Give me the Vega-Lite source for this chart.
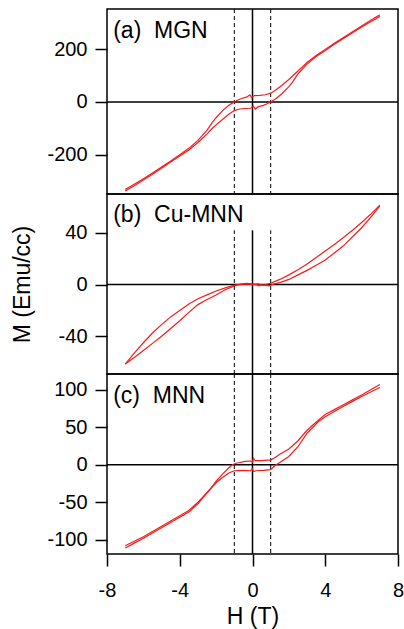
{
  "$schema": "https://vega.github.io/schema/vega-lite/v6.json",
  "background": "white",
  "padding": {"left": 10, "top": 7, "right": 0, "bottom": 0},
  "spacing": 0,
  "bounds": "flush",
  "config": {
    "view": {"stroke": "black", "strokeWidth": 1.5},
    "axis": {"grid": false, "domain": false, "labelFont": "Liberation Sans", "labelFontSize": 20, "labelColor": "black", "tickColor": "black", "tickWidth": 1.5, "tickSize": 12, "titleFont": "Liberation Sans", "titleFontSize": 23, "titleFontWeight": "normal", "titleColor": "black", "labelOverlap": false},
    "text": {"font": "Liberation Sans"}
  },
  "datasets": {
    "mgn": [
      {"b":"d","H":7,"M":330},{"b":"d","H":6.5,"M":309},{"b":"d","H":6,"M":288},{"b":"d","H":5.5,"M":266},{"b":"d","H":5,"M":244},{"b":"d","H":4.5,"M":222},{"b":"d","H":4,"M":199},{"b":"d","H":3.5,"M":176},{"b":"d","H":3,"M":149},{"b":"d","H":2.5,"M":117},{"b":"d","H":2.2,"M":98},{"b":"d","H":2,"M":85},{"b":"d","H":1.6,"M":62},{"b":"d","H":1.3,"M":46},{"b":"d","H":1,"M":33},{"b":"d","H":0.7,"M":27},{"b":"d","H":0.4,"M":25},{"b":"d","H":0.1,"M":24},{"b":"d","H":-0.05,"M":16},{"b":"d","H":-0.15,"M":27},{"b":"d","H":-0.3,"M":19},{"b":"d","H":-0.6,"M":13},{"b":"d","H":-0.8,"M":7},{"b":"d","H":-1,"M":0},{"b":"d","H":-1.3,"M":-13},{"b":"d","H":-1.6,"M":-30},{"b":"d","H":-2,"M":-60},{"b":"d","H":-2.2,"M":-77},{"b":"d","H":-2.5,"M":-107},{"b":"d","H":-3,"M":-146},{"b":"d","H":-3.5,"M":-176},{"b":"d","H":-4,"M":-200},{"b":"d","H":-4.5,"M":-224},{"b":"d","H":-5,"M":-247},{"b":"d","H":-5.5,"M":-269},{"b":"d","H":-6,"M":-291},{"b":"d","H":-6.5,"M":-312},{"b":"d","H":-7,"M":-332},
      {"b":"a","H":-7,"M":-338},{"b":"a","H":-6.5,"M":-318},{"b":"a","H":-6,"M":-296},{"b":"a","H":-5.5,"M":-274},{"b":"a","H":-5,"M":-251},{"b":"a","H":-4.5,"M":-228},{"b":"a","H":-4,"M":-205},{"b":"a","H":-3.5,"M":-182},{"b":"a","H":-3,"M":-154},{"b":"a","H":-2.5,"M":-121},{"b":"a","H":-2.2,"M":-100},{"b":"a","H":-2,"M":-87},{"b":"a","H":-1.6,"M":-64},{"b":"a","H":-1.3,"M":-47},{"b":"a","H":-1,"M":-33},{"b":"a","H":-0.7,"M":-27},{"b":"a","H":-0.4,"M":-25},{"b":"a","H":-0.1,"M":-24},{"b":"a","H":0.05,"M":-16},{"b":"a","H":0.15,"M":-27},{"b":"a","H":0.3,"M":-19},{"b":"a","H":0.6,"M":-13},{"b":"a","H":0.8,"M":-7},{"b":"a","H":1,"M":0},{"b":"a","H":1.3,"M":13},{"b":"a","H":1.6,"M":30},{"b":"a","H":2,"M":58},{"b":"a","H":2.2,"M":75},{"b":"a","H":2.5,"M":106},{"b":"a","H":3,"M":143},{"b":"a","H":3.5,"M":172},{"b":"a","H":4,"M":195},{"b":"a","H":4.5,"M":218},{"b":"a","H":5,"M":240},{"b":"a","H":5.5,"M":262},{"b":"a","H":6,"M":284},{"b":"a","H":6.5,"M":304},{"b":"a","H":7,"M":324}
    ],
    "cumnn": [
      {"b":"d","H":7,"M":61.5},{"b":"d","H":6.5,"M":54.5},{"b":"d","H":6,"M":48},{"b":"d","H":5.5,"M":42},{"b":"d","H":5,"M":36.5},{"b":"d","H":4.5,"M":31},{"b":"d","H":4,"M":26},{"b":"d","H":3.5,"M":21},{"b":"d","H":3,"M":16},{"b":"d","H":2.5,"M":11.5},{"b":"d","H":2,"M":7.5},{"b":"d","H":1.5,"M":4},{"b":"d","H":1,"M":1},{"b":"d","H":0.7,"M":0},{"b":"d","H":0.5,"M":-0.5},{"b":"d","H":0.35,"M":-1},{"b":"d","H":0.2,"M":0},{"b":"d","H":0,"M":0.5},{"b":"d","H":-0.3,"M":1},{"b":"d","H":-0.6,"M":0.5},{"b":"d","H":-1,"M":-0.5},{"b":"d","H":-1.5,"M":-2.5},{"b":"d","H":-2,"M":-5},{"b":"d","H":-2.5,"M":-8},{"b":"d","H":-3,"M":-11},{"b":"d","H":-3.5,"M":-15},{"b":"d","H":-4,"M":-20},{"b":"d","H":-4.5,"M":-25},{"b":"d","H":-5,"M":-31},{"b":"d","H":-5.5,"M":-37.5},{"b":"d","H":-6,"M":-45},{"b":"d","H":-6.5,"M":-53},{"b":"d","H":-7,"M":-61.5},
      {"b":"a","H":-7,"M":-61.5},{"b":"a","H":-6.5,"M":-56.5},{"b":"a","H":-6,"M":-51},{"b":"a","H":-5.5,"M":-45.5},{"b":"a","H":-5,"M":-40},{"b":"a","H":-4.5,"M":-34},{"b":"a","H":-4,"M":-28},{"b":"a","H":-3.5,"M":-21.5},{"b":"a","H":-3,"M":-15.5},{"b":"a","H":-2.5,"M":-11.5},{"b":"a","H":-2,"M":-8},{"b":"a","H":-1.5,"M":-4},{"b":"a","H":-1,"M":-1},{"b":"a","H":-0.7,"M":0},{"b":"a","H":-0.3,"M":0.5},{"b":"a","H":0,"M":0},{"b":"a","H":0.3,"M":0.5},{"b":"a","H":0.6,"M":-0.5},{"b":"a","H":0.9,"M":-1},{"b":"a","H":1.2,"M":0.5},{"b":"a","H":1.5,"M":1.5},{"b":"a","H":2,"M":4},{"b":"a","H":2.5,"M":7.5},{"b":"a","H":3,"M":11},{"b":"a","H":3.5,"M":15},{"b":"a","H":4,"M":19},{"b":"a","H":4.5,"M":24.5},{"b":"a","H":5,"M":30},{"b":"a","H":5.5,"M":37},{"b":"a","H":6,"M":44},{"b":"a","H":6.5,"M":52},{"b":"a","H":7,"M":61}
    ],
    "mnn": [
      {"b":"d","H":7,"M":107},{"b":"d","H":6.5,"M":100},{"b":"d","H":6,"M":93},{"b":"d","H":5.5,"M":86.5},{"b":"d","H":5,"M":80},{"b":"d","H":4.5,"M":73.5},{"b":"d","H":4,"M":67},{"b":"d","H":3.6,"M":59},{"b":"d","H":3,"M":46},{"b":"d","H":2.5,"M":32},{"b":"d","H":2,"M":21},{"b":"d","H":1.5,"M":14},{"b":"d","H":1.2,"M":9},{"b":"d","H":1,"M":6.5},{"b":"d","H":0.5,"M":5.5},{"b":"d","H":0.15,"M":5.5},{"b":"d","H":0.05,"M":8.5},{"b":"d","H":0,"M":3.5},{"b":"d","H":-0.1,"M":5},{"b":"d","H":-0.4,"M":4.5},{"b":"d","H":-0.9,"M":2},{"b":"d","H":-1.1,"M":0},{"b":"d","H":-1.3,"M":-4},{"b":"d","H":-1.65,"M":-12.5},{"b":"d","H":-2,"M":-22},{"b":"d","H":-2.4,"M":-35},{"b":"d","H":-3,"M":-50},{"b":"d","H":-3.5,"M":-61},{"b":"d","H":-4,"M":-68},{"b":"d","H":-4.5,"M":-75},{"b":"d","H":-5,"M":-82},{"b":"d","H":-5.5,"M":-89},{"b":"d","H":-6,"M":-96},{"b":"d","H":-6.5,"M":-102},{"b":"d","H":-7,"M":-108},
      {"b":"a","H":-7,"M":-111},{"b":"a","H":-6.5,"M":-104.5},{"b":"a","H":-6,"M":-98},{"b":"a","H":-5.5,"M":-91},{"b":"a","H":-5,"M":-84},{"b":"a","H":-4.5,"M":-77},{"b":"a","H":-4,"M":-70},{"b":"a","H":-3.5,"M":-63},{"b":"a","H":-3,"M":-52},{"b":"a","H":-2.5,"M":-37},{"b":"a","H":-2,"M":-24},{"b":"a","H":-1.65,"M":-17},{"b":"a","H":-1.3,"M":-11},{"b":"a","H":-1,"M":-8},{"b":"a","H":-0.5,"M":-7.5},{"b":"a","H":-0.1,"M":-8},{"b":"a","H":-0.02,"M":-5},{"b":"a","H":0.05,"M":-9},{"b":"a","H":0.2,"M":-8},{"b":"a","H":0.6,"M":-7.5},{"b":"a","H":1,"M":-6.5},{"b":"a","H":1.24,"M":-1},{"b":"a","H":1.5,"M":3},{"b":"a","H":2,"M":11},{"b":"a","H":2.5,"M":24},{"b":"a","H":3,"M":42},{"b":"a","H":3.6,"M":57},{"b":"a","H":4,"M":64},{"b":"a","H":4.5,"M":71},{"b":"a","H":5,"M":78},{"b":"a","H":5.5,"M":84.5},{"b":"a","H":6,"M":91},{"b":"a","H":6.5,"M":97},{"b":"a","H":7,"M":103}
    ]
  },
  "vconcat": [
    {
      "width": 291, "height": 185,
      "layer": [
        {"data": {"values": [{"H": 0}]}, "mark": {"type": "rule", "color": "black", "strokeWidth": 1.5},
         "encoding": {"x": {"field": "H", "type": "quantitative", "scale": {"domain": [-8, 8], "nice": false, "zero": false}, "axis": null}}},
        {"data": {"values": [{"H": -1}, {"H": 1}]}, "mark": {"type": "rule", "color": "black", "strokeWidth": 1, "strokeDash": [4, 3]},
         "encoding": {"x": {"field": "H", "type": "quantitative", "axis": null}}},
        {"data": {"values": [{"M": 0}]}, "mark": {"type": "rule", "color": "black", "strokeWidth": 1.5},
         "encoding": {"y": {"field": "M", "type": "quantitative", "scale": {"domain": [-349, 352], "nice": false, "zero": false},
           "axis": {"title": null, "values": [-200, 0, 200], "labelPadding": 8, "labelExpr": "'' + datum.value"}}}},
        {"data": {"name": "mgn"}, "mark": {"type": "line", "color": "#f41c1c", "strokeWidth": 1.2},
         "encoding": {"x": {"field": "H", "type": "quantitative", "axis": null}, "y": {"field": "M", "type": "quantitative"}, "detail": {"field": "b"}}},
        {"data": {"values": [{"t": "(a)\u00a0 MGN"}]}, "mark": {"type": "text", "align": "left", "baseline": "alphabetic", "fontSize": 23, "color": "black"},
         "encoding": {"x": {"datum": -7.66, "axis": null}, "y": {"datum": 244}, "text": {"field": "t"}}}
      ]
    },
    {
      "width": 291, "height": 180,
      "layer": [
        {"data": {"values": [{"H": 0}]}, "mark": {"type": "rule", "color": "black", "strokeWidth": 1.5},
         "encoding": {"x": {"field": "H", "type": "quantitative", "scale": {"domain": [-8, 8], "nice": false, "zero": false}, "axis": null}, "y": {"datum": -69.2}, "y2": {"datum": 42}}},
        {"data": {"values": [{"H": -1}, {"H": 1}]}, "mark": {"type": "rule", "color": "black", "strokeWidth": 1, "strokeDash": [4, 3]},
         "encoding": {"x": {"field": "H", "type": "quantitative", "axis": null}, "y": {"datum": -69.2}, "y2": {"datum": 42}}},
        {"data": {"values": [{"M": 0}]}, "mark": {"type": "rule", "color": "black", "strokeWidth": 1.5},
         "encoding": {"y": {"field": "M", "type": "quantitative", "scale": {"domain": [-69.2, 70.1], "nice": false, "zero": false},
           "axis": {"title": "M (Emu/cc)", "titlePadding": 24, "values": [-40, 0, 40], "labelPadding": 8, "labelExpr": "'' + datum.value"}}}},
        {"data": {"name": "cumnn"}, "mark": {"type": "line", "color": "#f41c1c", "strokeWidth": 1.2},
         "encoding": {"x": {"field": "H", "type": "quantitative", "axis": null}, "y": {"field": "M", "type": "quantitative"}, "detail": {"field": "b"}}},
        {"data": {"values": [{"t": "(b)\u00a0 Cu-MNN"}]}, "mark": {"type": "text", "align": "left", "baseline": "alphabetic", "fontSize": 23, "color": "black"},
         "encoding": {"x": {"datum": -7.66, "axis": null}, "y": {"datum": 48.2}, "text": {"field": "t"}}}
      ]
    },
    {
      "width": 291, "height": 180,
      "layer": [
        {"data": {"values": [{"H": 0}]}, "mark": {"type": "rule", "color": "black", "strokeWidth": 1.5},
         "encoding": {"x": {"field": "H", "type": "quantitative", "scale": {"domain": [-8, 8], "nice": false, "zero": false},
           "axis": {"title": "H (T)", "titlePadding": 5, "values": [-8, -4, 0, 4, 8], "labelPadding": 14, "labelFlush": false, "labelExpr": "'' + datum.value"}}}},
        {"data": {"values": [{"H": -1}, {"H": 1}]}, "mark": {"type": "rule", "color": "black", "strokeWidth": 1, "strokeDash": [4, 3]},
         "encoding": {"x": {"field": "H", "type": "quantitative"}}},
        {"data": {"values": [{"M": 0}]}, "mark": {"type": "rule", "color": "black", "strokeWidth": 1.5},
         "encoding": {"y": {"field": "M", "type": "quantitative", "scale": {"domain": [-119, 121], "nice": false, "zero": false},
           "axis": {"title": null, "values": [-100, -50, 0, 50, 100], "labelPadding": 8, "labelExpr": "'' + datum.value"}}}},
        {"data": {"name": "mnn"}, "mark": {"type": "line", "color": "#f41c1c", "strokeWidth": 1.2},
         "encoding": {"x": {"field": "H", "type": "quantitative"}, "y": {"field": "M", "type": "quantitative"}, "detail": {"field": "b"}}},
        {"data": {"values": [{"t": "(c)\u00a0 MNN"}]}, "mark": {"type": "text", "align": "left", "baseline": "alphabetic", "fontSize": 23, "color": "black"},
         "encoding": {"x": {"datum": -7.66}, "y": {"datum": 83}, "text": {"field": "t"}}}
      ]
    }
  ]
}
